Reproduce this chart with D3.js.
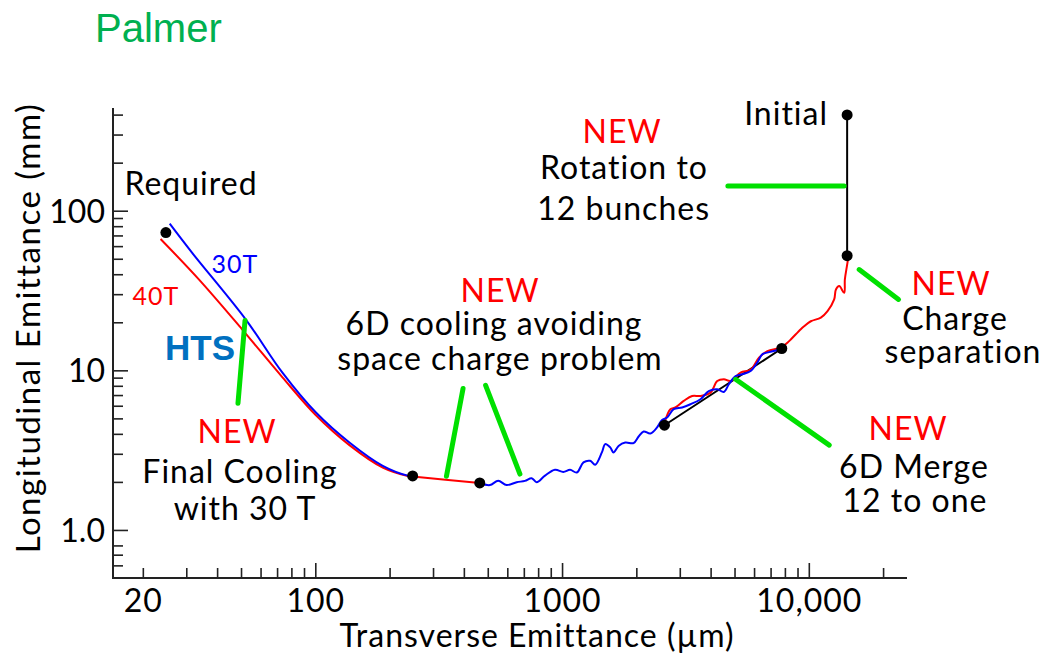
<!DOCTYPE html>
<html>
<head>
<meta charset="utf-8">
<script src="https://cdn.jsdelivr.net/npm/d3@7"></script>
<style>
  body { margin: 0; background: #fff; }
  svg text { font-family: Lato, "DejaVu Sans", sans-serif; fill: #000; }
</style>
</head>
<body>
<div id="chart"></div>
<script>
// stages (black dots): transverse (um), longitudinal (mm)
var stageX = [24.8, 248, 464, 2600, 7770, 14300, 14300];
var stageY = [72.9, 2.18, 1.97, 4.53, 13.7, 52.3, 398];

// final cooling 30T (blue)
var final30T = [[25.7,82.9],[31.7,54.4],[52.3,20.8],[73.6,9.67],[100.6,5.44],[137.5,3.53],[187.7,2.52],[237,2.19],[248,2.18]];
// final cooling 40T (red), then 6D link to second dot
var final40T = [[23.6,66.5],[33.8,37.0],[50.6,18.0],[73.6,9.04],[100.6,5.23],[137.5,3.40],[187.7,2.46],[237,2.18],[248,2.16],[464,1.97]];
// 6D cooling (blue, wiggly)
var cooling6D = [[464,1.97],[510,1.91],[551,2.03],[596,1.91],[655,1.99],[707,2.03],[753,2.11],[789,1.99],[853,2.19],
  [936,2.38],[1012,2.31],[1078,2.38],[1148,2.29],[1221,2.65],[1300,2.71],[1362,2.56],[1450,3.06],[1496,3.45],
  [1567,3.29],[1616,3.06],[1694,3.36],[1804,3.53],[1949,3.50],[2043,3.85],[2141,4.14],[2279,4.02],[2427,4.39],
  [2543,4.89],[2665,5.06],[2834,5.71],[3066,5.85],[3314,6.13],[3639,6.59],[3933,7.42],[4255,7.61],[4526,7.32],
  [4743,8.18],[5050,9.21],[5377,9.44],[5810,9.90],[6186,11.2],[6483,12.6],[6896,13.0],[7460,13.4],[7937,13.7]];
// merge + charge separation (red)
var mergeRed = [[2598,4.67],[2748,5.71],[2879,5.85],[3112,6.43],[3367,6.91],[3639,6.91],[3996,7.25],[4255,8.57],
  [4526,8.79],[4819,8.57],[5290,9.67],[5810,10.1],[6281,12.0],[6794,13.2],[7694,13.9],[8191,14.9],[8452,15.6],
  [9279,18.1],[9571,18.9],[10190,20.3],[11190,21.4],[11910,23.5],[12670,27.8],[12880,32.1],[13280,33.7],
  [13910,30.6],[14000,37.1],[14270,44.9],[14450,50.6]];
// straight black segments
var mergeLine = [[2600,4.53],[7770,13.7]];
var initialLine = [[14300,398],[14300,52.3]];

// green pointer lines (data coords)
var pointers = [
  [[48.6,6.22],[51.9,20.5]],
  [[340,2.17],[397,7.69]],
  [[490,8.06],[675,2.24]],
  [[4700,143],[13900,143]],
  [[16000,42.8],[23100,27.8]],
  [[5050,8.79],[12100,3.40]]
];

// axis ticks
var xMajor = [100, 1000, 10000];
var xMinor = [20,30,40,50,60,70,80,90,200,300,400,500,600,700,800,900,2000,3000,4000,5000,6000,7000,8000,9000,20000];
var xLabelVals = [20, 100, 1000, 10000];
var xLabels = ["20", "100", "1000", "10,000"];
var yMajor = [1, 10, 100];
var yMinor = [0.6,0.7,0.8,2,3,4,5,6,7,8,9,20,30,40,50,60,70,80,90,200,300,400];
var yLabelVals = [1, 10, 100];
var yLabels = ["1.0", "10", "100"];

// annotation texts
var notes = [
  {t:"Required", x:191, y:195, c:"#000", s:32},
  {t:"30T", x:235, y:273, c:"#0000ff", s:25},
  {t:"40T", x:156, y:305, c:"#ff0000", s:25},
  {t:"NEW", x:237, y:443, c:"#ff0000", s:32},
  {t:"Final Cooling", x:240, y:483, c:"#000", s:32},
  {t:"with 30 T", x:245, y:520, c:"#000", s:32},
  {t:"NEW", x:500, y:302, c:"#ff0000", s:32},
  {t:"6D cooling avoiding", x:494, y:335, c:"#000", s:32},
  {t:"space charge problem", x:500, y:370, c:"#000", s:32},
  {t:"NEW", x:622, y:143, c:"#ff0000", s:32},
  {t:"Rotation to", x:624, y:179, c:"#000", s:32},
  {t:"12 bunches", x:710, y:220, c:"#000", s:32, a:"end"},
  {t:"Initial", x:828, y:125, c:"#000", s:32, a:"end"},
  {t:"NEW", x:951, y:295, c:"#ff0000", s:32},
  {t:"Charge", x:955, y:330, c:"#000", s:32},
  {t:"separation", x:963, y:363, c:"#000", s:32},
  {t:"NEW", x:908, y:440, c:"#ff0000", s:32},
  {t:"6D Merge", x:914, y:478, c:"#000", s:32},
  {t:"12 to one", x:915, y:512, c:"#000", s:32}
];

var width = 1044, height = 658;
var svg = d3.select("#chart").append("svg")
  .attr("width", width).attr("height", height)
  .style("background", "#fff");

var x = d3.scaleLog().domain([15, 25000]).range([112, 907]);
var y = d3.scaleLog().domain([0.5, 440]).range([578, 108]);

// title
svg.append("text").attr("x", 95).attr("y", 42)
  .style("font-family", "'Liberation Sans', Arial, sans-serif")
  .style("font-size", "40px").style("fill", "#00b050")
  .text("Palmer");

// axes: minor ticks, major ticks, then labels
function styleAxis(g) {
  g.select(".domain").remove();
  g.selectAll("line").attr("stroke", "#222").attr("stroke-width", 1.6);
}
svg.append("g").attr("transform", "translate(0,578)")
  .call(d3.axisBottom(x).tickValues(xMinor).tickSize(-10).tickFormat(""))
  .call(styleAxis);
svg.append("g").attr("transform", "translate(0,578)")
  .call(d3.axisBottom(x).tickValues(xMajor).tickSize(-15).tickFormat(""))
  .call(styleAxis);
svg.append("g").attr("transform", "translate(0,578)")
  .call(d3.axisBottom(x).tickValues(xLabelVals).tickSize(0)
    .tickFormat(function(d, i) { return xLabels[i]; }))
  .call(function(g) {
    g.select(".domain").remove();
    g.selectAll("text").attr("y", 34).attr("dy", null)
      .style("font-family", "Lato, sans-serif").style("font-size", "32px")
      .style("letter-spacing", "1px").attr("fill", "#000");
  });

svg.append("g").attr("transform", "translate(113,0)")
  .call(d3.axisLeft(y).tickValues(yMinor).tickSize(-10).tickFormat(""))
  .call(styleAxis);
svg.append("g").attr("transform", "translate(113,0)")
  .call(d3.axisLeft(y).tickValues(yMajor).tickSize(-15).tickFormat(""))
  .call(styleAxis);
svg.append("g").attr("transform", "translate(113,0)")
  .call(d3.axisLeft(y).tickValues(yLabelVals).tickSize(0)
    .tickFormat(function(d, i) { return yLabels[i]; }))
  .call(function(g) {
    g.select(".domain").remove();
    g.selectAll("text").attr("x", -8).attr("dy", "0.36em")
      .style("font-family", "Lato, sans-serif").style("font-size", "32px").attr("fill", "#000");
  });

// axis lines
svg.append("line").attr("x1", x(15)).attr("x2", x(25000)).attr("y1", y(0.5)).attr("y2", y(0.5))
  .attr("stroke", "#222").attr("stroke-width", 2);
svg.append("line").attr("x1", 113).attr("x2", 113).attr("y1", y(0.5)).attr("y2", y(440))
  .attr("stroke", "#222").attr("stroke-width", 2);

// axis titles
svg.append("text").attr("x", 537).attr("y", 647).attr("text-anchor", "middle")
  .style("font-size", "32px").style("letter-spacing", "1px").text("Transverse Emittance (\u00b5m)");
svg.append("text").attr("transform", "translate(40,328) rotate(-90)").attr("text-anchor", "middle")
  .style("font-size", "33px").style("letter-spacing", "1.5px").text("Longitudinal Emittance (mm)");

var smooth = d3.line().x(function(d){ return x(d[0]); }).y(function(d){ return y(d[1]); })
  .curve(d3.curveCatmullRom);
var straight = d3.line().x(function(d){ return x(d[0]); }).y(function(d){ return y(d[1]); });

// black straight segments
[mergeLine, initialLine].forEach(function(seg) {
  svg.append("path").attr("d", straight(seg)).attr("fill", "none")
    .attr("stroke", "#000").attr("stroke-width", 2);
});

// curves
svg.append("path").attr("d", smooth(final40T)).attr("fill", "none").attr("stroke", "#ff0000").attr("stroke-width", 2);
svg.append("path").attr("d", smooth(final30T)).attr("fill", "none").attr("stroke", "#0000ff").attr("stroke-width", 2);
svg.append("path").attr("d", smooth(mergeRed)).attr("fill", "none").attr("stroke", "#ff0000").attr("stroke-width", 2);
svg.append("path").attr("d", smooth(cooling6D)).attr("fill", "none").attr("stroke", "#0000ff").attr("stroke-width", 2);

// green pointers
svg.selectAll(".pointer").data(pointers).enter().append("path")
  .attr("class", "pointer")
  .attr("d", straight)
  .attr("stroke", "#00e000").attr("stroke-width", 5).attr("stroke-linecap", "round");

// stage dots
svg.selectAll(".stage").data(stageX).enter().append("circle")
  .attr("class", "stage")
  .attr("cx", function(d){ return x(d); })
  .attr("cy", function(d, i){ return y(stageY[i]); })
  .attr("r", 5.5).attr("fill", "#000");

// annotations
svg.selectAll(".note").data(notes).enter().append("text")
  .attr("class", "note")
  .attr("x", function(d){ return d.x; })
  .attr("y", function(d){ return d.y; })
  .attr("text-anchor", function(d){ return d.a || "middle"; })
  .style("font-size", function(d){ return d.s + "px"; })
  .style("letter-spacing", "1px")
  .style("fill", function(d){ return d.c; })
  .text(function(d){ return d.t; });

svg.append("text").attr("x", 200).attr("y", 360).attr("text-anchor", "middle")
  .style("font-family", "'Liberation Sans', Arial, sans-serif").style("font-weight", "bold")
  .style("font-size", "35px").style("fill", "#0070c0").text("HTS");
</script>
</body>
</html>
